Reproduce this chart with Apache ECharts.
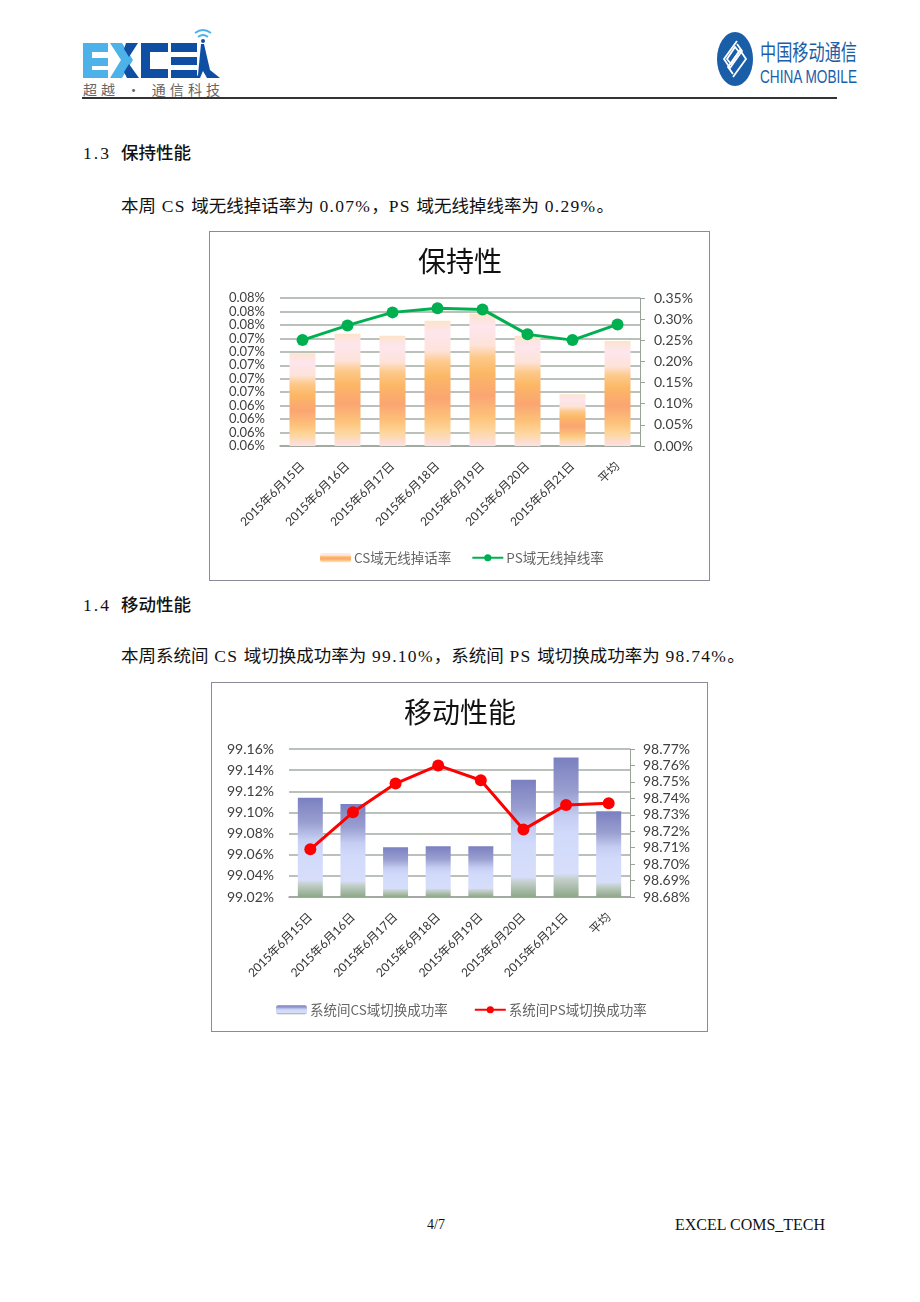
<!DOCTYPE html>
<html>
<head>
<meta charset="utf-8">
<script src="https://cdn.jsdelivr.net/npm/echarts@6/dist/echarts.min.js"></script>
<style>
  html, body { margin: 0; padding: 0; background: #fff; }
  #page { position: relative; width: 920px; height: 1302px; overflow: hidden; background: #fff; }
  .doc { position: absolute; white-space: pre; font-family: "Liberation Serif", "Noto Sans CJK SC"; font-size: 17.5px; line-height: 24px; color: #111; }
  .doc b { font-family: "Noto Sans CJK SC"; font-weight: 500; }
  .doc i { font-style: normal; letter-spacing: 1.3px; }
  .doc u { display: inline-block; width: 38px; text-decoration: none; letter-spacing: 2px; }
  .foot { position: absolute; white-space: pre; font-family: "Liberation Serif"; color: #111; line-height: 20px; }
  .chart { position: absolute; box-sizing: border-box; border: 1px solid #8c8a98; }
  #chartKeep { left: 209px; top: 231px; width: 501px; height: 350px; }
  #chartMove { left: 211px; top: 682px; width: 497px; height: 350px; }
  #rule { position: absolute; left: 82px; top: 97px; width: 755px; height: 2px; background: #333; }
  svg { position: absolute; left: 0; top: 0; }
</style>
</head>
<body>
<div id="page">
  <svg width="920" height="100" font-family="Noto Sans CJK SC">
    <!-- EXCEL logo -->
    <path fill="#4db2ea" d="M83 43h25v9h-16v6h16v8h-16v4h16v8h-25z"/>
    <path fill="#4db2ea" d="M110 43h12l11 17-11 18h-12l11-18z"/>
    <path fill="#0f4fa3" d="M126 43h12l-9 14-5-8zM124 72l5-8 10 14h-12z"/>
    <path fill="#0f4fa3" d="M141 43h27v9h-18v17h18v9h-27z"/>
    <path fill="#0f4fa3" d="M171 43h26v9h-26zM171 57h26v8h-26zM171 70h26v8h-26z"/>
    <path fill="#0f4fa3" d="M201 44h3l6 26 10 8h-25l3-3z"/>
    <path fill="#fff" d="M200 78l3-7 4 7z"/>
    <g fill="none" stroke="#4db2ea" stroke-width="1.8">
      <path d="M198 37q5-4 10 0M195 33q8-6 16 0"/>
    </g>
    <circle cx="203" cy="41" r="2" fill="#0f4fa3"/>
    <text x="83" y="95" font-size="14" fill="#666" textLength="137">超越 • 通信科技</text>
    <!-- China Mobile logo -->
    <ellipse cx="735" cy="59" rx="18" ry="27" fill="#1a5ea8"/>
    <g fill="none" stroke="#fff" stroke-width="1.8">
      <path d="M737 41l-13 18 6 9 12-17-5-7"/>
      <path d="M733 77l13-18-6-9-12 17 5 7"/>
      <path d="M735 47l-8 12 4 5 8-12z"/>
    </g>
    <text x="760" y="60" font-size="22" fill="#1a5ea8" textLength="97" lengthAdjust="spacingAndGlyphs">中国移动通信</text>
    <text x="760" y="83" font-size="19" fill="#1a5ea8" font-family="Liberation Sans" textLength="97" lengthAdjust="spacingAndGlyphs">CHINA MOBILE</text>
  </svg>
  <div id="rule"></div>

  <div class="doc" style="left:83px;top:140px"><u>1.3</u><b>保持性能</b></div>
  <div class="doc" style="left:121px;top:194px">本周<i> CS </i>域无线掉话率为<i> 0.07%</i>，<i>PS </i>域无线掉线率为<i> 0.29%</i>。</div>
  <div id="chartKeep" class="chart"></div>

  <div class="doc" style="left:83px;top:592px"><u>1.4</u><b>移动性能</b></div>
  <div class="doc" style="left:121px;top:644px">本周系统间<i> CS </i>域切换成功率为<i> 99.10%</i>，系统间<i> PS </i>域切换成功率为<i> 98.74%</i>。</div>
  <div id="chartMove" class="chart"></div>

  <div class="foot" style="left:427px;top:1215px;font-size:14px">4/7</div>
  <div class="foot" style="left:675px;top:1215px;font-size:16px">EXCEL COMS_TECH</div>
</div>

<script>
  let categories = ['2015年6月15日', '2015年6月16日', '2015年6月17日', '2015年6月18日', '2015年6月19日', '2015年6月20日', '2015年6月21日', '平均'];

  // 保持性
  let csDropRate = [0.0718, 0.0747, 0.0744, 0.0766, 0.0777, 0.0744, 0.0657, 0.0736];
  let psDropRate = [0.2504, 0.2852, 0.316, 0.326, 0.323, 0.264, 0.2504, 0.2876];

  // 移动性能
  let csHandover = [99.114, 99.108, 99.067, 99.068, 99.068, 99.131, 99.152, 99.101];
  let psHandover = [98.709, 98.7315, 98.749, 98.760, 98.751, 98.721, 98.736, 98.737];

  let axisFont = '"Lato", "Noto Sans CJK SC"';
  let cjkFont = '"Noto Sans CJK SC"';

  function vGradient(stops) {
    return new echarts.graphic.LinearGradient(0, 0, 0, 1, stops.map(function (s) {
      return { offset: s[0], color: s[1] };
    }));
  }

  function pctLabel(margin, size) {
    return {
      margin: margin,
      fontFamily: axisFont,
      fontSize: size,
      color: '#404040',
      showMinLabel: true,
      showMaxLabel: true,
      formatter: function (v) { return v.toFixed(2) + '%'; }
    };
  }

  function drawChart(dom, cfg) {
    let chart = echarts.init(document.getElementById(dom));
    chart.setOption({
      animation: false,
      backgroundColor: '#fff',
      title: {
        text: cfg.title,
        left: cfg.titleX,
        top: 10,
        textAlign: 'center',
        textStyle: { fontFamily: cjkFont, fontSize: 28, fontWeight: 400, color: '#111' }
      },
      legend: {
        left: cfg.legendX,
        top: cfg.legendY,
        itemWidth: 31,
        itemHeight: 9,
        itemGap: cfg.legendGap,
        textStyle: { fontFamily: cjkFont, fontSize: 13.5, color: '#666', padding: [0, 0, 0, -2] },
        data: [cfg.barName, cfg.lineName]
      },
      grid: cfg.grid,
      xAxis: {
        type: 'category',
        data: categories,
        axisTick: { show: false },
        axisLine: { lineStyle: { color: '#9aa39a', width: 1.5 } },
        axisLabel: { interval: 0, rotate: 45, margin: 18, fontFamily: axisFont, fontSize: 12, color: '#333' }
      },
      yAxis: [{
        type: 'value',
        min: cfg.left.min,
        max: cfg.left.max,
        interval: cfg.left.interval,
        axisLine: { show: false },
        axisTick: { show: false },
        splitLine: { lineStyle: { color: '#a3aba3', width: 1.5 } },
        axisLabel: pctLabel(15, cfg.left.size)
      }, {
        type: 'value',
        position: 'right',
        min: cfg.right.min,
        max: cfg.right.max,
        interval: cfg.right.interval,
        axisLine: { show: true, lineStyle: { color: '#9aa39a', width: 1 } },
        axisTick: { show: true, length: 5, lineStyle: { color: '#9aa39a' } },
        splitLine: { show: false },
        axisLabel: pctLabel(cfg.right.margin, 14)
      }],
      series: [{
        name: cfg.barName,
        type: 'bar',
        data: cfg.barData,
        barWidth: cfg.barWidth,
        itemStyle: { color: vGradient(cfg.stops) }
      }, {
        name: cfg.lineName,
        type: 'line',
        yAxisIndex: 1,
        data: cfg.lineData,
        symbol: 'circle',
        symbolSize: 12,
        itemStyle: { color: cfg.lineColor },
        lineStyle: { color: cfg.lineColor, width: 3 }
      }]
    });
    return chart;
  }

  // grid offsets are relative to each box, plus its 1px border
  drawChart('chartKeep', {
    title: '保持性',
    titleX: 245,
    legendX: 105,
    legendY: 314,
    legendGap: 20,
    barName: 'CS域无线掉话率',
    lineName: 'PS域无线掉线率',
    grid: { left: 70, top: 66, width: 360, height: 148 },
    left: { min: 0.058, max: 0.080, interval: 0.002, size: 13 },
    right: { min: 0, max: 0.35, interval: 0.05, margin: 14 },
    barData: csDropRate,
    lineData: psDropRate,
    barWidth: 26,
    lineColor: '#00b050',
    stops: [[0, '#fde4c4'], [0.03, '#fde4d8'], [0.1, '#fde6ee'], [0.24, '#fde3d8'], [0.33, '#fdc98a'], [0.45, '#fcb765'],
      [0.62, '#fba572'], [0.78, '#fdc27a'], [0.88, '#fdd69c'], [1, '#fde0e6']]
  });

  drawChart('chartMove', {
    title: '移动性能',
    titleX: 243,
    legendX: 59,
    legendY: 315,
    legendGap: 26,
    barName: '系统间CS域切换成功率',
    lineName: '系统间PS域切换成功率',
    grid: { left: 77, top: 66, width: 341, height: 148 },
    left: { min: 99.02, max: 99.16, interval: 0.02, size: 14 },
    right: { min: 98.68, max: 98.77, interval: 0.01, margin: 13 },
    barData: csHandover,
    lineData: psHandover,
    barWidth: 25,
    lineColor: '#ff0000',
    stops: [[0, '#7a80c0'], [0.25, '#9a9fd0'], [0.42, '#c4cdf2'], [0.55, '#d2dafb'], [0.83, '#d6defb'], [0.87, '#c5d0cc'], [1, '#8da888']]
  });
</script>
</body>
</html>
